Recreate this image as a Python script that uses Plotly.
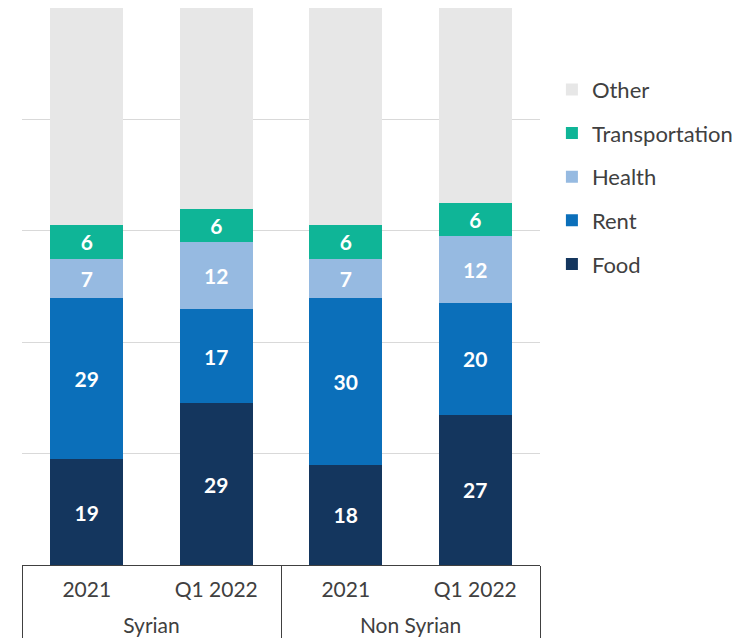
import plotly.graph_objects as go

# Share of expenditure (%) by nationality and period
groups = ["Syrian", "Syrian", "Non Syrian", "Non Syrian"]
periods = ["2021", "Q1 2022", "2021", "Q1 2022"]

food = [19, 29, 18, 27]
rent = [29, 17, 30, 20]
health = [7, 12, 7, 12]
transportation = [6, 6, 6, 6]
other = [39, 36, 39, 35]

series = [
    ("Food", food, "#14365E", True),
    ("Rent", rent, "#0B6FBA", True),
    ("Health", health, "#96BAE1", True),
    ("Transportation", transportation, "#0FB597", True),
    ("Other", other, "#E7E7E7", False),
]

# invisible tall spacer so the group row sits a bit lower, like the original
pad = "<span style='font-size:33px'>\u00a0</span>"
period_labels = [pad + p + pad for p in periods]

fig = go.Figure()
for i, (name, vals, color, show_text) in enumerate(series):
    fig.add_trace(go.Bar(
        x=[groups, period_labels],
        y=vals,
        name=name,
        legendgroup=name,
        legendrank=len(series) - i,
        marker=dict(color=color, line=dict(width=0)),
        text=vals if show_text else None,
        texttemplate="%{text}" if show_text else "",
        textposition="inside",
        insidetextanchor="middle",
        textfont=dict(color="white", size=21, family="Lato", weight="bold"),
        hovertemplate=name + ": %{y}<extra></extra>",
    ))

fig.update_layout(
    barmode="stack",
    bargap=0.44,
    width=745,
    height=630,
    margin=dict(l=14, r=213, t=0, b=73),
    paper_bgcolor="white",
    plot_bgcolor="white",
    font=dict(family="Lato", size=21, color="#404040"),
    showlegend=True,
    legend=dict(
        traceorder="grouped",
        tracegroupgap=12,
        x=1.023,
        y=0.891,
        xanchor="left",
        yanchor="top",
        font=dict(size=22, color="#404040"),
        itemwidth=30,
    ),
    uniformtext=dict(mode="show", minsize=10),
)

fig.update_xaxes(
    showline=True,
    linecolor="#404040",
    linewidth=1,
    showdividers=True,
    dividercolor="#404040",
    dividerwidth=1,
    tickfont=dict(size=21, color="#404040"),
    ticks="",
    ticklabelstandoff=6,
)
fig.update_yaxes(
    range=[0, 100],
    dtick=20,
    showticklabels=False,
    showgrid=True,
    gridcolor="#D9D9D9",
    gridwidth=1,
    zeroline=False,
)

fig.write_html("out.html")
